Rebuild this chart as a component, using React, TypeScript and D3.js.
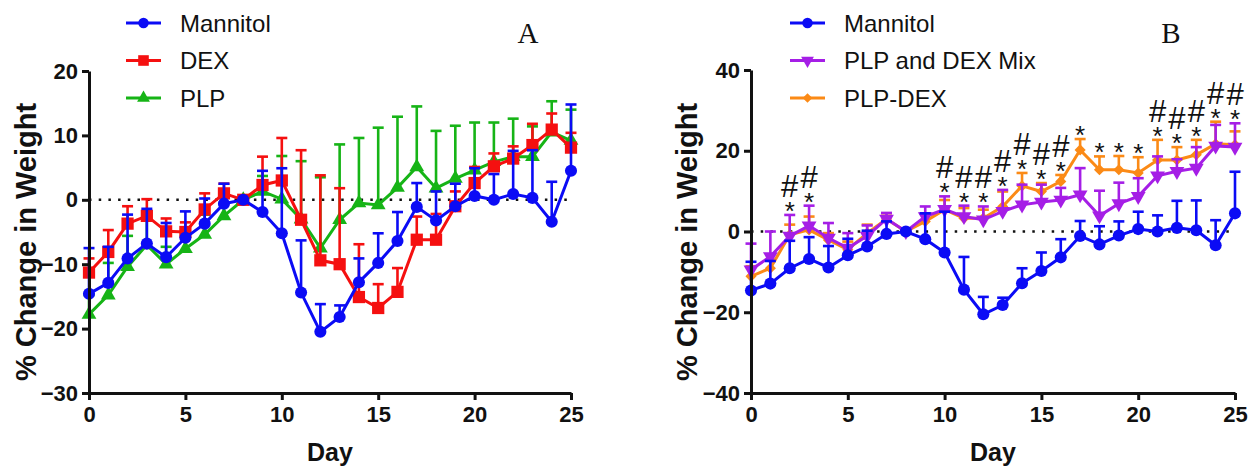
import React, { useEffect, useRef } from 'react';
import * as d3 from 'd3';

// day index shared by every series
const days = [0, 1, 2, 3, 4, 5, 6, 7, 8, 9, 10, 11, 12, 13, 14, 15, 16, 17, 18, 19, 20, 21, 22, 23, 24, 25];

// mean % change and upper SEM
const mannitolMean = [-14.6, -12.9, -9.1, -6.8, -8.9, -5.9, -3.7, -0.6, 0, -1.9, -5.2, -14.4, -20.5, -18.2, -12.8, -9.8, -6.4, -1.1, -3.2, -1.0, 0.6, 0, 0.9, 0.3, -3.4, 4.5];
const mannitolErr = [7.1, 5.6, 6.8, 5.4, 5.3, 4.1, 3.9, 3.1, 0, 6.4, 10.1, 8.1, 4.3, 1.8, 3.7, 4.6, 4.5, 3.7, 4.5, 3.5, 4.3, 4.0, 6.7, 7.4, 6.2, 10.3];

const dexMean = [-11.3, -8.1, -3.7, -2.5, -4.9, -5.0, -1.5, 1.0, 0, 2.3, 3.0, -3.1, -9.4, -10.0, -15.1, -16.8, -14.3, -6.2, -6.2, -1.0, 2.6, 5.2, 6.4, 8.5, 10.9, 8.1];
const dexErr = [2.2, 3.4, 2.7, 2.6, 2.0, 1.5, 2.5, 1.5, 0, 4.4, 6.6, 10.8, 13.2, 11.8, 8.2, 3.7, 3.7, 3.6, 4.0, 2.3, 2.5, 2.0, 1.9, 3.3, 2.5, 2.3];

const plpMean = [-17.8, -14.8, -10.4, -7.0, -10.0, -7.6, -5.4, -2.5, 0, 1.3, 0.1, -3.0, -7.5, -3.1, -0.5, -0.8, 1.9, 5.1, 1.8, 3.3, 4.6, 5.9, 6.7, 6.7, 10.5, 9.2];
const plpErr = [3.0, 5.0, 4.8, 4.0, 2.7, 3.0, 3.1, 2.0, 0, 2.4, 6.7, 9.0, 11.0, 11.7, 10.1, 12.0, 11.0, 9.4, 8.9, 8.2, 7.4, 6.1, 5.9, 4.7, 4.8, 4.8];

const mixMean = [-9.5, -6.2, -1.1, 1.4, -1.6, -4.1, -1.1, 3.1, 0, 3.7, 5.5, 3.7, 2.9, 5.0, 6.6, 7.3, 7.8, 9.1, 3.9, 6.9, 8.7, 13.8, 14.9, 15.7, 21.2, 20.9];
const mixErr = [6.5, 6.2, 5.2, 5.0, 3.7, 3.7, 2.6, 1.5, 0, 2.5, 3.2, 2.7, 3.3, 5.3, 5.0, 4.3, 3.0, 6.6, 6.2, 5.2, 4.5, 4.8, 3.0, 5.2, 5.2, 5.9];

const plpDexMean = [-11.1, -9.1, -0.8, 0.4, -2.1, -4.5, -0.4, 3.1, 0, 2.5, 5.4, 3.3, 3.3, 6.2, 11.3, 9.9, 12.4, 20.2, 15.3, 15.3, 14.5, 17.7, 17.7, 19.0, 21.7, 21.5];
const plpDexErr = [2.5, 2.1, 2.5, 3.3, 1.7, 2.0, 2.1, 0.8, 0, 2.0, 2.4, 2.5, 2.1, 3.7, 3.2, 2.1, 1.6, 2.7, 3.3, 3.4, 3.9, 5.0, 3.2, 3.7, 5.5, 3.3];

// significance marks in panel B
const starDays = [2, 3, 10, 11, 12, 13, 14, 15, 16, 17, 18, 19, 20, 21, 22, 23, 24, 25];
const hashDays = [2, 3, 10, 11, 12, 13, 14, 15, 16, 21, 22, 23, 24, 25];

const xTicks = [0, 5, 10, 15, 20, 25];
const yTicksA = [-30, -20, -10, 0, 10, 20];
const yTicksB = [-40, -20, 0, 20, 40];

const SANS = '"Liberation Sans", Arial, Helvetica, sans-serif';
const SERIF = '"Liberation Serif", "Times New Roman", serif';

const seriesA = [
    { name: 'Mannitol', mean: mannitolMean, err: mannitolErr, color: '#0b0bf5', shape: 'circle' },
    { name: 'DEX', mean: dexMean, err: dexErr, color: '#f51010', shape: 'square' },
    { name: 'PLP', mean: plpMean, err: plpErr, color: '#16b416', shape: 'up' },
];
const seriesB = [
    { name: 'Mannitol', mean: mannitolMean, err: mannitolErr, color: '#0b0bf5', shape: 'circle' },
    { name: 'PLP and DEX Mix', mean: mixMean, err: mixErr, color: '#a51ee6', shape: 'down' },
    { name: 'PLP-DEX', mean: plpDexMean, err: plpDexErr, color: '#fb8a16', shape: 'diamond' },
];

const symbolPath = (shape, scale = 1) => {
    if (shape === 'circle') return d3.symbol(d3.symbolCircle, 115 * scale)();
    if (shape === 'square') return d3.symbol(d3.symbolSquare, 150 * scale)();
    if (shape === 'up' || shape === 'down') return d3.symbol(d3.symbolTriangle, 95 * scale)();
    return d3.symbol(d3.symbolSquare, 62 * scale)();
};
const symbolRotate = (shape) => (shape === 'down' ? 180 : shape === 'diamond' ? 45 : 0);

const Marker = ({ shape, color, x, y, scale = 1 }) => (
    <path
        d={symbolPath(shape, scale)}
        fill={color}
        transform={`translate(${x},${y}) rotate(${symbolRotate(shape)})`}
    />
);

const Panel = ({ series, xRange, yDomain, yRange, yTicks, labelX, dayX, legendX, letter, letterX, marks }) => {
    const xAxisRef = useRef(null);
    const yAxisRef = useRef(null);

    const x = d3.scaleLinear().domain([0, 25]).range(xRange);
    const y = d3.scaleLinear().domain(yDomain).range(yRange);

    useEffect(() => {
        const styleAxis = (g) => {
            g.select('.domain').attr('stroke', '#111').attr('stroke-width', 3);
            g.selectAll('.tick line').attr('stroke', '#111').attr('stroke-width', 3);
            g.selectAll('.tick text')
                .attr('fill', '#111')
                .style('font-family', SANS)
                .style('font-size', '22px')
                .style('font-weight', 'bold');
        };
        const xg = d3.select(xAxisRef.current)
            .call(d3.axisBottom(x).tickValues(xTicks).tickSize(7).tickSizeOuter(0).tickPadding(6));
        styleAxis(xg);
        const yg = d3.select(yAxisRef.current)
            .call(d3.axisLeft(y).tickValues(yTicks).tickSize(7).tickSizeOuter(0).tickPadding(4));
        styleAxis(yg);
    }, []);

    const line = d3.line().x((d, i) => x(days[i])).y(d => y(d));
    const drawOrder = [...series].reverse();

    // marks sit above the highest error cap of the treatment series
    const capTop = (day) => d3.min(series.slice(1), s => y(s.mean[day] + s.err[day]));

    return (
        <g>
            <line x1={x(0)} x2={x(25)} y1={y(0)} y2={y(0)} stroke="#111" strokeWidth={2.5} strokeDasharray="2.5,7.2" />

            {drawOrder.map(s => (
                <g key={s.name}>
                    {s.mean.map((m, i) => s.err[i] > 0 && (
                        <g key={i} stroke={s.color} strokeWidth={2.6}>
                            <line x1={x(days[i])} x2={x(days[i])} y1={y(m)} y2={y(m + s.err[i])} />
                            <line x1={x(days[i]) - 5.5} x2={x(days[i]) + 5.5} y1={y(m + s.err[i])} y2={y(m + s.err[i])} />
                        </g>
                    ))}
                    <path d={line(s.mean)} fill="none" stroke={s.color} strokeWidth={3} />
                    {s.mean.map((m, i) => (
                        <Marker key={i} shape={s.shape} color={s.color} x={x(days[i])} y={y(m)} />
                    ))}
                </g>
            ))}

            <g ref={xAxisRef} transform={`translate(0,${yRange[0]})`} />
            <g ref={yAxisRef} transform={`translate(${xRange[0]},0)`} />

            {marks && starDays.map(d => {
                const starC = capTop(d) - 10;
                const hashC = starC - 19;
                return (
                    <text key={'m' + d} x={x(d)} textAnchor="middle" fontFamily={SANS} fill="#111">
                        {hashDays.includes(d) && (
                            <tspan x={x(d)} y={hashC + 11} fontSize={31}>#</tspan>
                        )}
                        <tspan x={x(d)} y={starC + 15} fontSize={26}>*</tspan>
                    </text>
                );
            })}

            <text transform={`translate(${labelX},242) rotate(-90)`} textAnchor="middle" dominantBaseline="central"
                fontFamily={SANS} fontSize={29} fontWeight="bold" fill="#111">% Change in Weight</text>
            <text x={dayX} y={461} textAnchor="middle" fontFamily={SANS} fontSize={25} fontWeight="bold" fill="#111">Day</text>

            {series.map((s, i) => {
                const cy = 23 + i * 37.5;
                return (
                    <g key={'lg' + s.name}>
                        <line x1={legendX} x2={legendX + 35} y1={cy} y2={cy} stroke={s.color} strokeWidth={3} />
                        <Marker shape={s.shape} color={s.color} x={legendX + 17.5} y={cy} scale={0.75} />
                        <text x={legendX + 54} y={cy} dominantBaseline="central" fontFamily={SANS} fontSize={24} fill="#111">{s.name}</text>
                    </g>
                );
            })}

            <text x={letterX} y={43} textAnchor="middle" fontFamily={SERIF} fontSize={29} fill="#111">{letter}</text>
        </g>
    );
};

const App = () => (
    <svg width={1251} height={466} style={{ position: 'absolute', left: 0, top: 0, background: '#fff' }}>
        <rect width={1251} height={466} fill="#fff" />
        <Panel
            series={seriesA}
            xRange={[89, 571]}
            yDomain={[-30, 20]}
            yRange={[393, 71]}
            yTicks={yTicksA}
            labelX={26}
            dayX={330}
            legendX={126}
            letter="A"
            letterX={528}
            marks={false}
        />
        <Panel
            series={seriesB}
            xRange={[751, 1235]}
            yDomain={[-40, 40]}
            yRange={[393, 70]}
            yTicks={yTicksB}
            labelX={687}
            dayX={993}
            legendX={790}
            letter="B"
            letterX={1171}
            marks={true}
        />
    </svg>
);

export default App;
